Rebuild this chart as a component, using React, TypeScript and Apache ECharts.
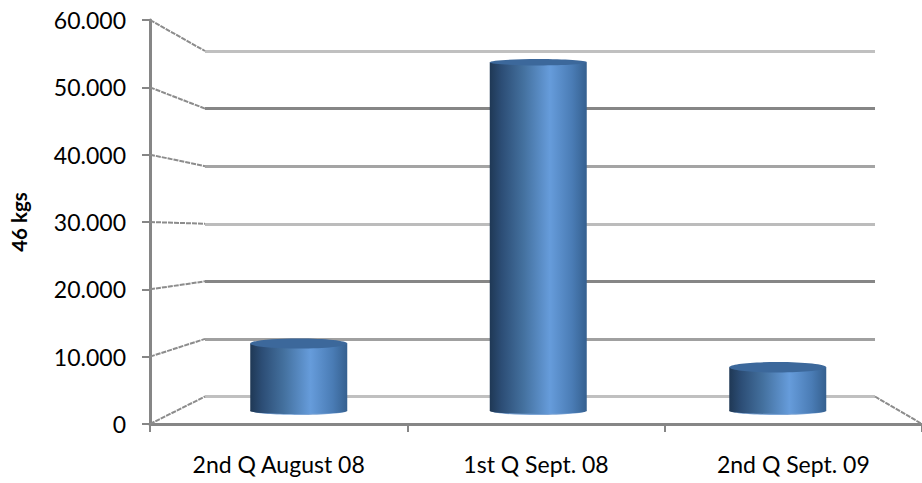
import React, { useEffect, useRef } from "react";
import * as echarts from "echarts";

const categories = ["2nd Q August 08", "1st Q Sept. 08", "2nd Q Sept. 09"];
const values = [10800, 55800, 7000];
const wallTicks = [0, 10000, 20000, 30000, 40000, 50000, 60000];
const wallColors = ["#c0c0c0", "#a0a0a0", "#868686", "#bcbcbc", "#a4a4a4", "#868686", "#c0c0c0"];
const axisName = "46 kgs";

const W = 922, H = 483;
const front = { left: 150, top: 20, width: 775, height: 404 };
const wall = { left: 205, top: 51, width: 670, height: 345.5 };
const bars = { left: 179, top: 36, width: 718.5, height: 375 };
const FONT = "Lato, 'Noto Sans', sans-serif";

const fmt = (v: number) => (v === 0 ? "0" : (v / 1000).toFixed(3));

function renderDiagonal(params: any, api: any) {
  const v = api.value(1);
  const cs = params.coordSys;
  const yBack = api.coord([0, v])[1];
  const yFront = front.top + front.height - (v / 60000) * front.height;
  const style = { stroke: "#8c8c8c", lineWidth: 2, lineDash: [5, 1], fill: "none" };
  const children: any[] = [
    { type: "line", shape: { x1: front.left, y1: yFront, x2: cs.x, y2: yBack }, style },
  ];
  if (v === 0) {
    children.push({
      type: "line",
      shape: { x1: cs.x + cs.width, y1: yBack, x2: W, y2: yFront },
      style,
    });
  }
  return { type: "group", children };
}

function renderCylinder(params: any, api: any) {
  const idx = api.value(0);
  const val = api.value(1);
  const [cx, yTop] = api.coord([idx, val]);
  const yBot = api.coord([idx, 0])[1];
  const w = 97;
  const x = cx - w / 2;
  const ryTop = 3 + 2.5 * (1 - val / 60000);
  const ryBot = 4;
  const side = new echarts.graphic.LinearGradient(0, 0, 1, 0, [
    { offset: 0, color: "#1f3855" },
    { offset: 0.12, color: "#2c4d75" },
    { offset: 0.35, color: "#44719f" },
    { offset: 0.62, color: "#669cdb" },
    { offset: 0.85, color: "#4a7cb5" },
    { offset: 1, color: "#35608f" },
  ]);
  return {
    type: "group",
    children: [
      { type: "ellipse", shape: { cx, cy: yBot, rx: w / 2 - 2, ry: ryBot }, style: { fill: "#7ea6d6" } },
      { type: "rect", shape: { x, y: yTop, width: w, height: yBot - yTop }, style: { fill: side } },
      { type: "ellipse", shape: { cx, cy: yBot, rx: w / 2, ry: ryBot - 1 }, style: { fill: side } },
      { type: "ellipse", shape: { cx, cy: yTop, rx: w / 2, ry: ryTop }, style: { fill: "#3c689b" } },
    ],
  };
}

export default function App() {
  const ref = useRef<HTMLDivElement>(null);
  useEffect(() => {
    const chart = echarts.init(ref.current!, undefined, { renderer: "svg" });
    const hiddenCat = { type: "category", data: categories, show: false };
    chart.setOption({
      animation: false,
      backgroundColor: "#ffffff",
      grid: [{ ...front }, { ...wall }, { ...bars }],
      xAxis: [
        {
          type: "category",
          data: categories,
          gridIndex: 0,
          axisLine: { lineStyle: { color: "#868686", width: 3 } },
          axisTick: { show: true, length: 8, lineStyle: { color: "#868686", width: 2 } },
          axisLabel: { color: "#000", fontFamily: FONT, fontSize: 23, margin: 28, interval: 0 },
        },
        { ...hiddenCat, gridIndex: 1 },
        { ...hiddenCat, gridIndex: 2 },
      ],
      yAxis: [
        {
          type: "value",
          gridIndex: 0,
          min: 0,
          max: 60000,
          interval: 10000,
          name: axisName,
          nameLocation: "middle",
          nameRotate: 90,
          nameGap: 121,
          nameTextStyle: { color: "#000", fontFamily: FONT, fontSize: 20.5, fontWeight: "bold" },
          axisLine: { show: true, lineStyle: { color: "#868686", width: 3 } },
          axisTick: { show: true, length: 8, lineStyle: { color: "#868686", width: 2 } },
          axisLabel: { color: "#000", fontFamily: FONT, fontSize: 23, margin: 24, formatter: fmt },
          splitLine: { show: false },
        },
        {
          type: "value",
          gridIndex: 1,
          min: 0,
          max: 60000,
          interval: 10000,
          axisLine: { show: false },
          axisTick: { show: false },
          axisLabel: { show: false },
          splitLine: { show: true, lineStyle: { color: wallColors, width: 3 } },
        },
        { type: "value", gridIndex: 2, min: 0, max: 60000, show: false, splitLine: { show: false } },
      ],
      series: [
        {
          type: "custom",
          xAxisIndex: 1,
          yAxisIndex: 1,
          silent: true,
          renderItem: renderDiagonal,
          data: wallTicks.map((v) => [0, v]),
          encode: { x: 0, y: 1 },
          z: 1,
        },
        {
          type: "custom",
          xAxisIndex: 2,
          yAxisIndex: 2,
          silent: true,
          renderItem: renderCylinder,
          data: values.map((v, i) => [i, v]),
          encode: { x: 0, y: 1 },
          z: 5,
        },
      ],
    });
    return () => chart.dispose();
  }, []);
  return (
    <div ref={ref} style={{ position: "absolute", left: 0, top: 0, width: W, height: H }} />
  );
}
